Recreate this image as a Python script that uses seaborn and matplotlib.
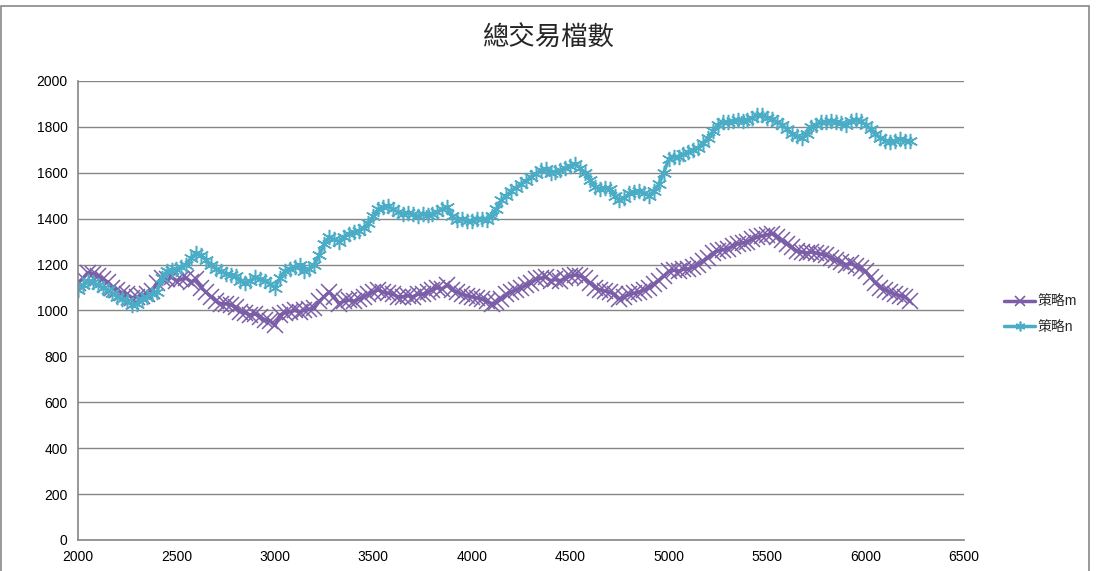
import matplotlib
matplotlib.use('Agg')
import matplotlib.pyplot as plt
import seaborn as sns
import pandas as pd
import numpy as np
from matplotlib.patches import Rectangle

# x positions (read every 25 units)
x_vals = list(range(2000, 6226, 25))

strategy_m = [
    1120, 1140, 1165, 1160, 1150, 1135, 1125, 1100, 1090, 1075,
    1070, 1055, 1060, 1065, 1070, 1085, 1120, 1140, 1135, 1145,
    1130, 1135, 1140, 1125, 1135, 1100, 1080, 1060, 1040, 1030,
    1030, 1025, 1015, 995, 990, 980, 985, 970, 960, 955,
    935, 980, 990, 995, 1000, 995, 1000, 1005, 1010, 1040,
    1060, 1080, 1060, 1030, 1040, 1045, 1040, 1050, 1060, 1070,
    1080, 1090, 1080, 1075, 1070, 1060, 1060, 1065, 1060, 1070,
    1070, 1080, 1090, 1100, 1095, 1110, 1090, 1080, 1070, 1065,
    1060, 1055, 1050, 1040, 1030, 1035, 1050, 1070, 1080, 1090,
    1100, 1110, 1120, 1135, 1140, 1145, 1130, 1135, 1130, 1140,
    1150, 1155, 1150, 1140, 1120, 1100, 1090, 1085, 1080, 1070,
    1050, 1060, 1070, 1075, 1080, 1090, 1100, 1115, 1130, 1150,
    1170, 1175, 1170, 1180, 1180, 1190, 1200, 1215, 1230, 1250,
    1260, 1265, 1270, 1280, 1290, 1295, 1300, 1310, 1320, 1325,
    1330, 1335, 1320, 1305, 1290, 1275, 1260, 1255, 1250, 1255,
    1250, 1245, 1240, 1230, 1220, 1210, 1200, 1205, 1195, 1185,
    1170, 1145, 1120, 1100, 1090, 1080, 1070, 1065, 1060, 1040,
]

strategy_n = [
    1090, 1110, 1130, 1125, 1110, 1100, 1090, 1075, 1060, 1050,
    1040, 1025, 1030, 1050, 1060, 1070, 1080, 1140, 1170, 1175,
    1180, 1190, 1200, 1230, 1250, 1240, 1220, 1200, 1180, 1170,
    1160, 1155, 1150, 1130, 1120, 1130, 1145, 1135, 1130, 1115,
    1100, 1140, 1170, 1180, 1190, 1200, 1170, 1180, 1200, 1240,
    1290, 1320, 1310, 1300, 1320, 1335, 1340, 1345, 1360, 1380,
    1410, 1440, 1450, 1455, 1440, 1430, 1420, 1425, 1420, 1410,
    1420, 1415, 1420, 1430, 1440, 1450, 1410, 1395, 1400, 1390,
    1390, 1400, 1400, 1395, 1410, 1440, 1480, 1500, 1520, 1535,
    1550, 1565, 1580, 1595, 1610, 1615, 1600, 1605, 1610, 1620,
    1630, 1640, 1620, 1600, 1570, 1540, 1530, 1535, 1530, 1500,
    1480, 1490, 1510, 1515, 1520, 1510, 1500, 1520, 1550, 1600,
    1660, 1670, 1670, 1680, 1690, 1700, 1710, 1730, 1750, 1780,
    1810, 1820, 1820, 1825, 1830, 1825, 1830, 1840, 1850, 1850,
    1840, 1835, 1820, 1810, 1790, 1770, 1760, 1750, 1770, 1800,
    1810, 1820, 1820, 1825, 1820, 1815, 1810, 1825, 1830, 1825,
    1810, 1790, 1770, 1750, 1740, 1735, 1740, 1745, 1740, 1740,
]

series_names = ['策略m', '策略n']
x_ticks = [2000, 2500, 3000, 3500, 4000, 4500, 5000, 5500, 6000, 6500]
y_ticks = [0, 200, 400, 600, 800, 1000, 1200, 1400, 1600, 1800, 2000]
title = '總交易檔數'

df = pd.DataFrame({
    'x': x_vals * 2,
    'value': strategy_m + strategy_n,
    'series': [series_names[0]] * len(x_vals) + [series_names[1]] * len(x_vals),
})

sns.set_style('white')
plt.rcParams['font.family'] = ['Liberation Sans', 'Noto Sans CJK TC', 'DejaVu Sans']

fig = plt.figure(figsize=(10.96, 5.71), dpi=100)
ax = fig.add_axes([0.0712, 0.0543, 0.8084, 0.8039])

palette = {'策略m': '#7b5ea7', '策略n': '#4bacc6'}
markers = {'策略m': 'x', '策略n': (6, 2, 0)}
for name in series_names:
    sub = df[df['series'] == name]
    sns.lineplot(data=sub, x='x', y='value', color=palette[name],
                 marker=markers[name], markeredgecolor=palette[name],
                 linewidth=2.5, markersize=11, markeredgewidth=1.1,
                 ax=ax, legend=False)

ax.set_xlim(2000, 6500)
ax.set_ylim(0, 2000)
ax.set_xticks(x_ticks)
ax.set_yticks(y_ticks)
ax.set_xlabel('')
ax.set_ylabel('')
ax.tick_params(axis='both', labelsize=10, labelcolor='#000000', length=4,
               direction='out', width=1, color='#868686')
ax.yaxis.grid(True, color='#868686', linewidth=1)
ax.set_axisbelow(True)
for s in ['top', 'right']:
    ax.spines[s].set_visible(False)
for s in ['left', 'bottom']:
    ax.spines[s].set_color('#868686')
    ax.spines[s].set_linewidth(1.2)

fig.text(0.5, 0.934, title, ha='center', va='center', fontsize=19,
         family=['Noto Sans CJK TC', 'DejaVu Sans'])

handles = [plt.Line2D([], [], color=palette[n], marker=markers[n], linewidth=2.5,
                      markersize=7, markeredgewidth=1.2, markeredgecolor=palette[n])
           for n in series_names]
fig.legend(handles, series_names, loc='center left', bbox_to_anchor=(0.905, 0.45),
           frameon=False, handlelength=2.2, handletextpad=0.2, labelspacing=0.8,
           prop={'family': ['Liberation Sans', 'Noto Sans CJK TC'], 'size': 10})

# outer chart frame
fig.patches.append(Rectangle((0.001, -0.05), 0.993, 1.04, transform=fig.transFigure,
                             fill=False, edgecolor='#888888', linewidth=1.2))

fig.savefig('out.png', dpi=100)
